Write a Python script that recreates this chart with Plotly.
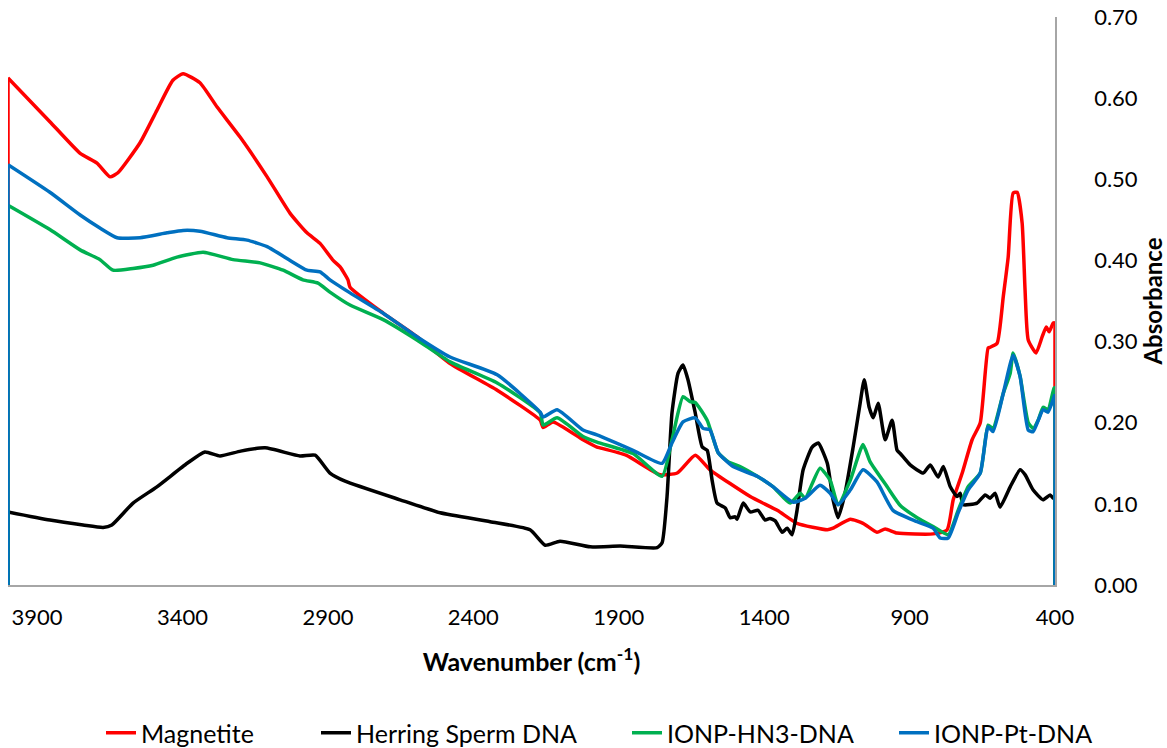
import plotly.graph_objects as go

# ---------------- data (wavenumber cm-1, absorbance) ----------------
mag_x = [4000, 4000, 3856, 3752, 3694, 3649, 3622, 3546, 3488, 3433, 3398, 3340, 3281, 3202,
         3109, 3030, 2972, 2927, 2882, 2858, 2831, 2824, 2710, 2594, 2480, 2318, 2170, 2160,
         2126, 2023, 1975, 1964, 1875, 1758, 1699, 1637, 1586, 1448, 1355, 1287, 1183, 1163,
         1104, 1060, 1012, 984, 943, 819, 771, 750, 719, 685, 657, 630, 623, 599, 578, 561,
         544, 530, 513, 503, 492, 465, 444, 430, 420, 406, 400, 400]
mag_y = [0.0, 0.625, 0.571, 0.532, 0.520, 0.503, 0.508, 0.545, 0.585, 0.622, 0.630, 0.619,
         0.589, 0.552, 0.503, 0.458, 0.434, 0.421, 0.400, 0.392, 0.376, 0.367, 0.335, 0.306,
         0.273, 0.240, 0.203, 0.194, 0.201, 0.179, 0.170, 0.169, 0.160, 0.136, 0.138, 0.160,
         0.142, 0.109, 0.092, 0.076, 0.068, 0.070, 0.081, 0.076, 0.065, 0.069, 0.064, 0.063,
         0.068, 0.105, 0.138, 0.179, 0.200, 0.292, 0.293, 0.298, 0.355, 0.404, 0.483, 0.484,
         0.446, 0.364, 0.302, 0.286, 0.306, 0.318, 0.312, 0.323, 0.323, 0.0]

dna_x = [4000, 4000, 3856, 3742, 3673, 3643, 3570, 3488, 3384, 3323, 3271, 3200, 3116, 2996,
         2944, 2893, 2841, 2652, 2514, 2342, 2205, 2153, 2102, 1998, 1895, 1768, 1751, 1734,
         1717, 1696, 1679, 1662, 1637, 1613, 1596, 1579, 1562, 1534, 1517, 1500, 1493, 1472,
         1448, 1421, 1397, 1380, 1362, 1338, 1321, 1304, 1287, 1266, 1235, 1214, 1183, 1163,
         1146, 1122, 1094, 1070, 1056, 1039, 1025, 1008, 984, 960, 943, 932, 898, 853, 829,
         802, 784, 760, 737, 726, 716, 668, 640, 623, 606, 589, 554, 520, 503, 475, 441, 417,
         406, 400, 400]
dna_y = [0.0, 0.090, 0.080, 0.074, 0.071, 0.074, 0.101, 0.121, 0.150, 0.164, 0.159, 0.165,
         0.169, 0.159, 0.160, 0.138, 0.128, 0.105, 0.089, 0.078, 0.068, 0.049, 0.054, 0.047,
         0.048, 0.046, 0.052, 0.109, 0.212, 0.261, 0.271, 0.253, 0.212, 0.170, 0.166, 0.129,
         0.101, 0.095, 0.083, 0.084, 0.081, 0.101, 0.090, 0.092, 0.080, 0.082, 0.079, 0.065,
         0.070, 0.062, 0.092, 0.142, 0.170, 0.175, 0.150, 0.105, 0.083, 0.113, 0.170, 0.224,
         0.253, 0.219, 0.206, 0.224, 0.179, 0.203, 0.166, 0.162, 0.148, 0.138, 0.148, 0.133,
         0.146, 0.121, 0.109, 0.113, 0.099, 0.101, 0.111, 0.107, 0.113, 0.096, 0.121, 0.142,
         0.136, 0.117, 0.105, 0.111, 0.107, 0.107, 0.0]

hn3_x = [4000, 4000, 3856, 3752, 3684, 3639, 3570, 3501, 3419, 3329, 3226, 3133, 3054, 2986,
         2934, 2893, 2824, 2710, 2594, 2480, 2318, 2170, 2160, 2112, 2023, 1975, 1851, 1751,
         1717, 1679, 1655, 1637, 1596, 1558, 1524, 1483, 1424, 1369, 1311, 1276, 1259, 1208,
         1173, 1146, 1104, 1060, 1036, 977, 932, 874, 819, 767, 733, 699, 657, 630, 613, 578,
         554, 544, 520, 492, 475, 458, 441, 424, 403, 400, 400]
hn3_y = [0.0, 0.468, 0.438, 0.413, 0.401, 0.388, 0.390, 0.394, 0.404, 0.410, 0.401, 0.397,
         0.388, 0.376, 0.372, 0.361, 0.345, 0.327, 0.302, 0.275, 0.249, 0.212, 0.197, 0.206,
         0.183, 0.176, 0.162, 0.134, 0.179, 0.232, 0.226, 0.225, 0.203, 0.163, 0.152, 0.146,
         0.134, 0.121, 0.101, 0.113, 0.107, 0.144, 0.129, 0.099, 0.129, 0.173, 0.152, 0.121,
         0.098, 0.083, 0.072, 0.062, 0.092, 0.121, 0.138, 0.197, 0.193, 0.236, 0.261, 0.286,
         0.257, 0.200, 0.193, 0.203, 0.219, 0.216, 0.243, 0.243, 0.0]

pt_x = [4000, 4000, 3856, 3752, 3684, 3625, 3546, 3453, 3398, 3340, 3247, 3178, 3109, 3030,
        2972, 2927, 2893, 2824, 2710, 2594, 2480, 2318, 2170, 2160, 2112, 2023, 1975, 1851,
        1751, 1717, 1679, 1637, 1610, 1586, 1558, 1507, 1424, 1369, 1300, 1259, 1208, 1173,
        1146, 1104, 1060, 1012, 957, 874, 819, 795, 767, 733, 699, 657, 630, 613, 578, 544,
        520, 492, 475, 441, 424, 403, 400, 400]
pt_y = [0.0, 0.518, 0.484, 0.456, 0.440, 0.428, 0.428, 0.434, 0.437, 0.436, 0.428, 0.425,
        0.417, 0.400, 0.388, 0.386, 0.376, 0.360, 0.335, 0.306, 0.281, 0.259, 0.213, 0.207,
        0.216, 0.191, 0.185, 0.166, 0.150, 0.175, 0.201, 0.206, 0.193, 0.191, 0.163, 0.146,
        0.134, 0.121, 0.102, 0.107, 0.123, 0.113, 0.099, 0.117, 0.142, 0.127, 0.092, 0.078,
        0.070, 0.058, 0.058, 0.089, 0.117, 0.138, 0.195, 0.189, 0.236, 0.283, 0.257, 0.191,
        0.189, 0.216, 0.213, 0.232, 0.235, 0.0]

series_names = ["Magnetite", "Herring Sperm DNA", "IONP-HN3-DNA", "IONP-Pt-DNA"]
series_x = [mag_x, dna_x, hn3_x, pt_x]
series_y = [mag_y, dna_y, hn3_y, pt_y]
series_colors = ["#FF0000", "#000000", "#00B050", "#0070C0"]

x_ticks = [3900, 3400, 2900, 2400, 1900, 1400, 900, 400]
y_ticks = [0.0, 0.1, 0.2, 0.3, 0.4, 0.5, 0.6, 0.7]

FONT = "Lato, 'Open Sans', sans-serif"
W, H = 1167, 748
ML, MR, MT, MB = 8, 112, 17, 163
PW, PH = W - ML - MR, H - MT - MB

# legend entry left positions (px) in the page
legend_px = [101, 316, 627, 894]
legend_ids = ["legend", "legend2", "legend3", "legend4"]
legend_cy = 733
LW = 3.5

fig = go.Figure()
for name, xs, ys, col, lid in zip(series_names, series_x, series_y, series_colors, legend_ids):
    # end segments (straight drops to zero at both ends of the recorded range)
    fig.add_trace(go.Scatter(x=xs[:2], y=ys[:2], mode="lines", showlegend=False,
                             hoverinfo="skip", line=dict(color=col, width=LW)))
    fig.add_trace(go.Scatter(x=xs[-2:], y=ys[-2:], mode="lines", showlegend=False,
                             hoverinfo="skip", line=dict(color=col, width=LW)))
    # spectrum
    fig.add_trace(go.Scatter(x=xs[1:-1], y=ys[1:-1], mode="lines", name=name, legend=lid,
                             line=dict(color=col, width=LW, shape="spline", smoothing=0.5)))

layout_legends = {}
for lid, px in zip(legend_ids, legend_px):
    layout_legends[lid] = dict(
        orientation="h", x=(px - ML) / PW, xanchor="left",
        y=-(legend_cy - (MT + PH)) / PH, yanchor="middle",
        font=dict(size=25, family=FONT), bgcolor="rgba(0,0,0,0)", borderwidth=0,
    )

fig.update_layout(
    width=W, height=H,
    margin=dict(l=ML, r=MR, t=MT, b=MB, autoexpand=False),
    paper_bgcolor="white", plot_bgcolor="white",
    font=dict(family=FONT, size=22, color="#000000"),
    showlegend=True,
    **layout_legends,
)
fig.update_xaxes(
    range=[4000, 400], tickvals=x_ticks, ticktext=[str(v) for v in x_ticks],
    showgrid=False, zeroline=False, showline=True, linecolor="#A6A6A6", linewidth=1.5,
    ticks="", tickfont=dict(size=22), ticklabelstandoff=12, automargin=False,
    title=dict(text="<b>Wavenumber (cm<sup>-1</sup>)</b>", font=dict(size=25), standoff=24),
)
fig.update_yaxes(
    range=[0, 0.7], tickvals=y_ticks, tickformat=".2f", side="right",
    showgrid=False, zeroline=False, showline=True, linecolor="#A6A6A6", linewidth=1.5,
    ticks="", tickfont=dict(size=22), ticklabelstandoff=33, automargin=False,
    title=dict(text="<b>Absorbance</b>", font=dict(size=24), standoff=14),
)

fig.write_html("out.html")
